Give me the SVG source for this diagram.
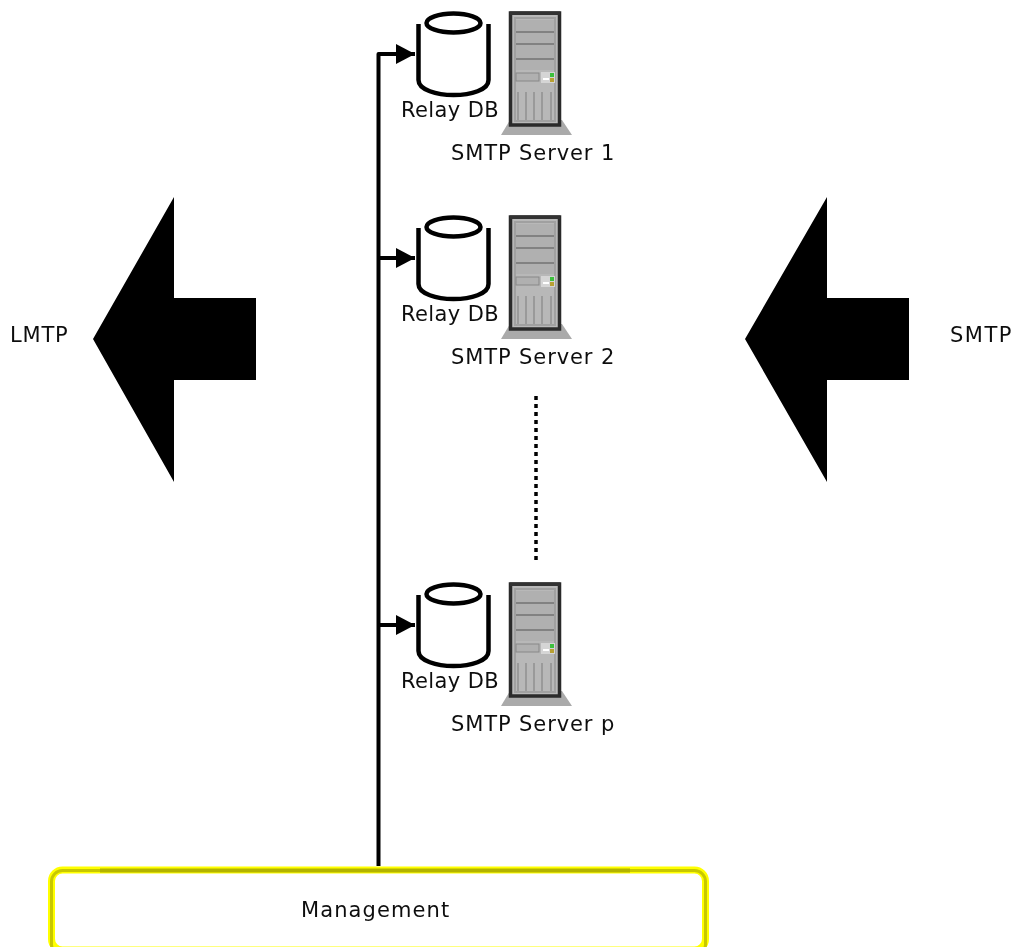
<svg xmlns="http://www.w3.org/2000/svg" width="1017" height="947" viewBox="0 0 1017 947">
<style>
text{font-family:"DejaVu Sans",sans-serif;font-size:21px;fill:#111}
.relay{letter-spacing:.4px}
.srv{letter-spacing:.9px}
.c{stroke:#000;stroke-width:4;fill:none;stroke-linejoin:round}
.dbw{stroke:#000;stroke-width:4.500;fill:#fff}
</style>
<defs>
<filter id="soft" x="0" y="0" width="100%" height="100%" filterUnits="userSpaceOnUse"><feGaussianBlur stdDeviation="0.700"/></filter>
<marker id="arrow" markerUnits="userSpaceOnUse" markerWidth="20" markerHeight="22" refX="19" refY="11" orient="auto"><path d="M0 1L19 11L0 21Z" fill="#000"/></marker>
<g id="db">
<path class="dbw" d="M418.500 24V80C418.500 90 437 95 453.500 95C471 95 488.500 90 488.500 80V24"/>
<ellipse class="dbw" cx="453.500" cy="23" rx="27" ry="9.500"/>
</g>
<g id="server">
<path d="M510 120L501 135H572L562 120Z" fill="#aaa"/>
<rect x="510.500" y="13" width="49" height="112" fill="#b8b8b8" stroke="#2a2a2a" stroke-width="3.500"/>
<rect x="510" y="11.500" width="50" height="3.500" fill="#333"/>
<rect x="515" y="18" width="40" height="103" fill="#b8b8b8" stroke="#a0a0a0" stroke-width="2"/>
<rect x="516" y="20" width="38" height="11" fill="#b0b0b0"/>
<rect x="516" y="33" width="38" height="10" fill="#b0b0b0"/>
<rect x="516" y="45" width="38" height="13" fill="#b0b0b0"/>
<rect x="516" y="60" width="38" height="10" fill="#b0b0b0"/>
<path d="M516 32H554M516 44H554M516 59H554" stroke="#707070" stroke-width="1.500"/>
<rect x="516" y="73" width="23" height="8" fill="#b0b0b0" stroke="#888"/>
<rect x="541" y="72" width="14" height="11" fill="#d5d5d5"/>
<path d="M543 79H549" stroke="#fff" stroke-width="2"/>
<rect x="550" y="73" width="4" height="4" fill="#3cc03c"/>
<rect x="550" y="78" width="4" height="4" fill="#b8a030"/>
<path d="M518 92V120M526 92V120M534 92V120M542 92V120M551 92V120" stroke="#909090" stroke-width="1.500"/>
</g>
</defs>
<g filter="url(#soft)">
<g id="connectors">
<path class="c" d="M378.500 866V54H415" marker-end="url(#arrow)"/>
<path class="c" d="M378.500 258H415" marker-end="url(#arrow)"/>
<path class="c" d="M378.500 625H415" marker-end="url(#arrow)"/>
<path d="M536 396V563" stroke="#000" stroke-width="3.500" stroke-dasharray="4 4" fill="none"/>
</g>
<g id="node-server-1"><use href="#db"/><use href="#server"/><text class="relay" x="401" y="117">Relay DB</text><text class="srv" x="451" y="160">SMTP Server 1</text></g>
<g id="node-server-2"><use href="#db" y="204"/><use href="#server" y="204"/><text class="relay" x="401" y="321">Relay DB</text><text class="srv" x="451" y="364">SMTP Server 2</text></g>
<g id="node-server-p"><use href="#db" y="571"/><use href="#server" y="571"/><text class="relay" x="401" y="688">Relay DB</text><text class="srv" x="451" y="731">SMTP Server p</text></g>
<g id="node-lmtp"><path d="M93 339L174 197V298H256V380H174V482Z" fill="#000"/><text x="10" y="342" letter-spacing=".8">LMTP</text></g>
<g id="node-smtp"><path d="M745 339L827 197V298H909V380H827V482Z" fill="#000"/><text x="950" y="342" letter-spacing="1.500">SMTP</text></g>
<g id="node-management">
<rect x="51.500" y="870" width="654" height="80" rx="11" fill="#fff" stroke="#ffff00" stroke-width="7"/>
<rect x="51.500" y="870.500" width="654" height="85" rx="11" fill="none" stroke="#c8c800" stroke-width="3"/>
<path d="M100 870.500H630" stroke="#b3b300" stroke-width="4"/>
<text x="301" y="917" letter-spacing="1.100">Management</text>
</g>
</g>
</svg>
